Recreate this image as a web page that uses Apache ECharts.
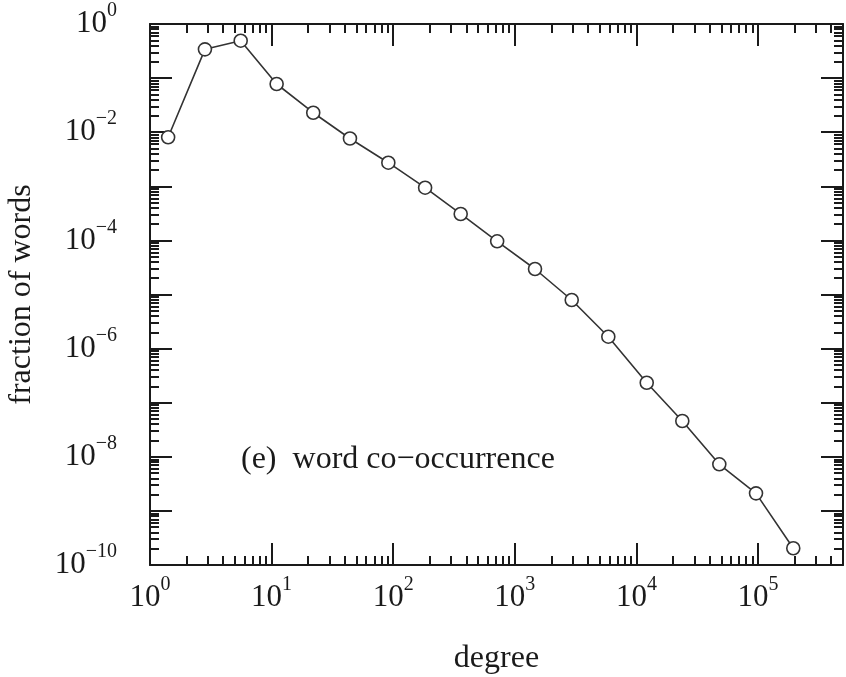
<!DOCTYPE html>
<html>
<head>
<meta charset="utf-8">
<script src="https://cdn.jsdelivr.net/npm/echarts@6/dist/echarts.min.js"></script>
<style>
  html, body { margin: 0; padding: 0; background: #fff; }
  #chart { width: 846px; height: 677px; }
</style>
</head>
<body>
<div id="chart"></div>
<script>
// degree bins and fraction of words
var degree = [1.41, 2.83, 5.57, 11.0, 22.0, 44.1, 91.2, 183, 359, 716, 1466, 2938, 5875, 12160, 23850, 48060, 96300, 195000];
var fraction = [8.05e-3, 0.340, 0.491, 0.0778, 0.0229, 7.65e-3, 2.73e-3, 9.42e-4, 3.08e-4, 9.62e-5,
  2.96e-5, 7.91e-6, 1.66e-6, 2.34e-7, 4.59e-8, 7.27e-9, 2.11e-9, 2.04e-10];

// tick values
var xMajor = [1, 10, 100, 1000, 10000, 100000];
var yMajor = [1, 1e-1, 1e-2, 1e-3, 1e-4, 1e-5, 1e-6, 1e-7, 1e-8, 1e-9, 1e-10];
var yLabels = [1, 1e-2, 1e-4, 1e-6, 1e-8, 1e-10];

function minors(majors, upto) {
  var out = [];
  majors.forEach(function (m) {
    for (var k = 2; k <= 9; k++) {
      var v = m * k;
      if (v < upto) out.push(v);
    }
  });
  return out;
}
var xMinor = minors(xMajor, 5e5);
var yMinor = minors(yMajor, 1);

var FONT = '"Liberation Serif", "Times New Roman", serif';
var INK = '#1a1a1a';

function powLabel(v) {
  var e = Math.round(Math.log10(v));
  var s = e < 0 ? '\u2212' + (-e) : String(e);
  return '{b|10}{s|' + s + '}';
}
// tall line box for the base digits, exponent pinned to the top of it
var richPow = {
  b: { fontSize: 31, fontFamily: FONT, color: INK, lineHeight: 46 },
  s: { fontSize: 20, fontFamily: FONT, color: INK, lineHeight: 20, verticalAlign: 'top' }
};

function axisBase(type, extra) {
  var a = {
    type: 'log',
    logBase: 10,
    min: type === 'x' ? 1 : 1e-10,
    max: type === 'x' ? 5e5 : 1,
    splitLine: { show: false },
    minorTick: { show: false },
    axisLine: { show: false },
    axisLabel: { show: false },
    axisTick: { show: false }
  };
  return Object.assign(a, extra);
}

var chart = echarts.init(document.getElementById('chart'));
chart.setOption({
  animation: false,
  backgroundColor: '#fff',
  grid: { left: 150, top: 24, right: 3, bottom: 112, containLabel: false, outerBoundsMode: 'none' },
  title: {
    text: '(e)  word co\u2212occurrence',
    left: 236,
    top: 439,
    textStyle: { fontFamily: FONT, fontSize: 32, fontWeight: 'normal', color: INK, lineHeight: 32 }
  },
  xAxis: [
    axisBase('x', {
      position: 'bottom',
      name: 'degree',
      nameLocation: 'middle',
      nameGap: 78,
      nameTextStyle: { fontFamily: FONT, fontSize: 32, color: INK },
      axisLine: { show: true, onZero: false, lineStyle: { color: INK, width: 2 } },
      axisTick: { show: true, inside: true, length: 9, customValues: xMinor, lineStyle: { color: INK, width: 2 } },
      axisLabel: { show: true, margin: 10, customValues: xMajor, formatter: powLabel, rich: richPow }
    }),
    axisBase('x', {
      position: 'bottom',
      axisTick: { show: true, inside: true, length: 22, customValues: xMajor, lineStyle: { color: INK, width: 2 } }
    }),
    axisBase('x', {
      position: 'top',
      axisLine: { show: true, onZero: false, lineStyle: { color: INK, width: 2 } },
      axisTick: { show: true, inside: true, length: 9, customValues: xMinor, lineStyle: { color: INK, width: 2 } }
    }),
    axisBase('x', {
      position: 'top',
      axisTick: { show: true, inside: true, length: 22, customValues: xMajor, lineStyle: { color: INK, width: 2 } }
    })
  ],
  yAxis: [
    axisBase('y', {
      position: 'left',
      name: 'fraction of words',
      nameLocation: 'middle',
      nameGap: 112,
      nameTextStyle: { fontFamily: FONT, fontSize: 32, color: INK },
      axisLine: { show: true, onZero: false, lineStyle: { color: INK, width: 2 } },
      axisTick: { show: true, inside: true, length: 9, customValues: yMinor, lineStyle: { color: INK, width: 2 } },
      axisLabel: { show: true, margin: 33, customValues: yLabels, formatter: powLabel, rich: richPow }
    }),
    axisBase('y', {
      position: 'left',
      axisTick: { show: true, inside: true, length: 22, customValues: yMajor, lineStyle: { color: INK, width: 2 } }
    }),
    axisBase('y', {
      position: 'right',
      axisLine: { show: true, onZero: false, lineStyle: { color: INK, width: 2 } },
      axisTick: { show: true, inside: true, length: 9, customValues: yMinor, lineStyle: { color: INK, width: 2 } }
    }),
    axisBase('y', {
      position: 'right',
      axisTick: { show: true, inside: true, length: 22, customValues: yMajor, lineStyle: { color: INK, width: 2 } }
    })
  ],
  series: [
    {
      type: 'line',
      xAxisIndex: 0,
      yAxisIndex: 0,
      data: degree.map(function (d, i) { return [d, fraction[i]]; }),
      symbol: 'circle',
      symbolSize: 13,
      z: 5,
      lineStyle: { color: '#333', width: 1.6 },
      itemStyle: { color: '#fff', borderColor: '#333', borderWidth: 1.6 }
    }
  ]
});
</script>
</body>
</html>
